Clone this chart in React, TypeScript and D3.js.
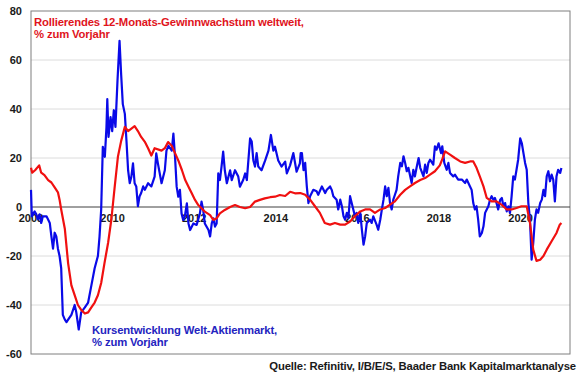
import React from "react";
import * as d3 from "d3";

const redYears = [2008.0,2008.03,2008.1,2008.2,2008.25,2008.33,2008.42,2008.5,2008.58,2008.66,2008.7,2008.74,2008.83,2008.91,2008.99,2009.07,2009.15,2009.23,2009.32,2009.4,2009.48,2009.56,2009.64,2009.72,2009.8,2009.89,2009.97,2010.05,2010.13,2010.21,2010.3,2010.38,2010.46,2010.54,2010.62,2010.7,2010.79,2010.87,2010.95,2011.03,2011.2,2011.28,2011.36,2011.45,2011.53,2011.61,2011.7,2011.78,2011.86,2011.94,2012.02,2012.1,2012.18,2012.26,2012.39,2012.47,2012.55,2012.63,2012.75,2012.88,2013.0,2013.12,2013.25,2013.37,2013.49,2013.61,2013.73,2013.86,2013.98,2014.1,2014.23,2014.35,2014.47,2014.6,2014.72,2014.84,2014.96,2015.08,2015.2,2015.33,2015.45,2015.58,2015.7,2015.82,2015.94,2016.07,2016.19,2016.31,2016.43,2016.56,2016.68,2016.8,2016.92,2017.05,2017.17,2017.29,2017.41,2017.54,2017.66,2017.78,2017.9,2018.02,2018.08,2018.15,2018.27,2018.39,2018.52,2018.64,2018.76,2018.84,2018.92,2019.0,2019.09,2019.17,2019.29,2019.41,2019.53,2019.66,2019.78,2019.9,2020.02,2020.15,2020.23,2020.31,2020.39,2020.48,2020.56,2020.64,2020.76,2020.88,2020.96,2021.0];
const redValues = [16,14,15,17,14,13,11,10,8,6,3,-1,-9,-23,-32,-36,-40,-42,-43.5,-43,-41,-39,-36,-31,-23,-14.6,-5,8,20.5,27,32.7,31,32,33,31,28.6,26.6,24,21,24,23,24,26.5,25,22,19,15,11,8.3,5.6,2.9,0.8,-0.5,-1.9,-3.3,-5.3,-4.6,-2.6,-1.2,0,0.8,0,-0.5,0,2.2,2.9,3.5,4,4.2,4.9,4.5,6.2,5.6,5.7,5,3,0.3,-2.4,-6.5,-7.2,-6.5,-7.2,-7.2,-5.9,-3.8,-1.8,-1,-1,-2.4,-1,-0.4,1,2.3,5,7,8.4,9.8,11,11.8,13.2,14.6,17,19.5,22.7,21.4,20,18.6,18,18.6,18.6,16,12.5,8.4,3.7,2.3,2.3,1,-1,-1,-0.4,0.3,0.3,-6.5,-17.4,-22,-21.5,-20,-17.4,-14,-10.6,-7.2,-6.5];

const blueYears = [2008.0,2008.02,2008.09,2008.13,2008.17,2008.21,2008.25,2008.29,2008.38,2008.46,2008.5,2008.54,2008.58,2008.62,2008.66,2008.7,2008.74,2008.78,2008.83,2008.87,2008.91,2008.99,2009.07,2009.11,2009.17,2009.23,2009.32,2009.4,2009.48,2009.56,2009.64,2009.68,2009.72,2009.76,2009.81,2009.85,2009.87,2009.9,2009.95,2009.99,2010.03,2010.07,2010.12,2010.17,2010.21,2010.25,2010.3,2010.34,2010.38,2010.42,2010.46,2010.5,2010.54,2010.58,2010.62,2010.66,2010.7,2010.75,2010.79,2010.87,2010.95,2011.03,2011.07,2011.11,2011.2,2011.28,2011.32,2011.37,2011.45,2011.49,2011.53,2011.57,2011.61,2011.65,2011.69,2011.73,2011.77,2011.82,2011.86,2011.9,2011.98,2012.06,2012.14,2012.18,2012.22,2012.26,2012.35,2012.39,2012.43,2012.47,2012.51,2012.55,2012.59,2012.63,2012.67,2012.71,2012.75,2012.8,2012.84,2012.88,2012.92,2013.0,2013.08,2013.12,2013.2,2013.25,2013.29,2013.37,2013.41,2013.45,2013.49,2013.53,2013.57,2013.65,2013.74,2013.82,2013.88,2013.94,2013.98,2014.06,2014.14,2014.23,2014.27,2014.35,2014.43,2014.51,2014.59,2014.61,2014.64,2014.68,2014.72,2014.76,2014.8,2014.84,2014.92,2015.0,2015.04,2015.13,2015.21,2015.25,2015.33,2015.37,2015.41,2015.49,2015.53,2015.58,2015.62,2015.66,2015.7,2015.74,2015.78,2015.82,2015.86,2015.94,2015.98,2016.02,2016.07,2016.11,2016.15,2016.19,2016.23,2016.31,2016.35,2016.39,2016.47,2016.51,2016.56,2016.6,2016.64,2016.68,2016.72,2016.76,2016.8,2016.84,2016.88,2016.92,2016.96,2017.0,2017.05,2017.09,2017.13,2017.17,2017.21,2017.25,2017.33,2017.37,2017.41,2017.45,2017.5,2017.54,2017.62,2017.66,2017.7,2017.74,2017.78,2017.86,2017.9,2017.94,2017.99,2018.05,2018.08,2018.13,2018.19,2018.23,2018.27,2018.35,2018.39,2018.47,2018.56,2018.64,2018.68,2018.72,2018.76,2018.8,2018.84,2018.88,2018.92,2018.96,2019.0,2019.05,2019.09,2019.13,2019.17,2019.21,2019.25,2019.29,2019.33,2019.37,2019.41,2019.45,2019.5,2019.54,2019.58,2019.62,2019.66,2019.7,2019.74,2019.78,2019.82,2019.86,2019.9,2019.94,2019.99,2020.03,2020.07,2020.11,2020.15,2020.19,2020.23,2020.27,2020.31,2020.35,2020.39,2020.43,2020.48,2020.52,2020.56,2020.6,2020.64,2020.68,2020.72,2020.76,2020.8,2020.84,2020.88,2020.92,2020.97,2021.0];
const blueValues = [7,-3.8,-1.8,-3,-5,-3,-6.5,-3.8,-3.8,-6.5,-12,-17,-10.5,-12,-17,-20,-25,-44,-46,-47,-46,-44,-40,-43,-50,-43,-41,-39,-32,-25,-20,-12,-1,24.6,20.5,32.7,44,28.6,36.7,31,39.5,32.7,51.6,67.8,54,42,38,27,15,9.7,12.4,17.8,9.7,8.4,0.3,4.3,5.7,8.4,7,9.7,8.4,12.4,21.9,17.8,9.7,15,23,25,23,30,20.5,8.3,4.2,7,-2.6,-5.3,-3.9,1.5,-6.7,-9.4,-6.7,-7.3,-2.6,2.2,-1.2,-6.7,-9.4,-12,-6.7,-4.6,-8,-6.7,13.7,11,16.5,22.6,15,9.7,12.4,15,11,15,12.4,8.3,11,13.7,11,28,26.7,19,16.5,22,16.5,15,19,23,29.4,23,24.6,19,16.5,18.5,13.7,17,22,14.4,17.8,22,22,15,18,8.4,1.6,4.4,7,6.4,5,8.4,5.7,7,8.4,7,4.4,3,-1,3,0.3,-3.8,-5.2,-2.4,-4.5,4.4,1.6,-3.8,-2.4,-6.5,-2.4,-9.3,-15.4,-12,-6.5,-5.2,-6.5,-3.8,-7.2,-9.3,-5.2,-1,3,8.4,4.4,7.8,1.6,-1,3,5,7,12.5,18,16.6,20.7,18,14.6,16,9.8,15.2,12.5,16,20,16,12.5,17.3,13.9,18,19.3,17.3,24.8,23.4,26,22,24.8,18,15.2,18,13.9,12.5,13.2,11.2,11.2,9.8,11.2,9.8,8.4,7,1.6,-1,0.3,-5.2,-12,-10.6,-7.9,-2.4,-1,0.3,3,4.4,3,3.7,1.6,-1,3,3.7,0.3,1.6,-1.8,0.3,-2.4,4.4,12.5,11.2,15.2,19.3,28,26,22,18,15.2,1.6,-5.2,-21.5,-14.7,-5.2,-1,-2.4,1.6,3,7,4.4,12.5,14.6,10.5,13.2,11.2,2.3,12.5,15.2,13.9,15.9,15.2];

const yTicks = [80, 60, 40, 20, 0, -20, -40, -60];
const xTicks = [2008, 2010, 2012, 2014, 2016, 2018, 2020];
const redTitle = ["Rollierendes 12-Monats-Gewinnwachstum weltweit,", "% zum Vorjahr"];
const blueTitle = ["Kursentwicklung Welt-Aktienmarkt,", "% zum Vorjahr"];
const sourceText = "Quelle: Refinitiv, I/B/E/S, Baader Bank Kapitalmarktanalyse";

const W = 580, H = 375;
const L = 31, R = 570, T = 11, B = 354;
const FONT = "'Liberation Sans', Arial, sans-serif";

export default function App() {
  const x = d3.scaleLinear().domain([2008, 2008 + (R - L) / 40.8]).range([L, R]);
  const y = d3.scaleLinear().domain([-60, 80]).range([B, T]);
  const line = d3.line<[number, number]>().x(d => x(d[0])).y(d => y(d[1]));
  const red = redYears.map((t, i) => [t, redValues[i]] as [number, number]);
  const blue = blueYears.map((t, i) => [t, blueValues[i]] as [number, number]);

  return (
    <svg width={W} height={H} style={{ position: "absolute", left: 0, top: 0, background: "#fff" }} fontFamily={FONT}>
      <rect x={0} y={0} width={W} height={H} fill="#fff" />
      {yTicks.filter(v => v !== 0 && v !== 80 && v !== -60).map(v => (
        <line key={v} x1={L} x2={R} y1={y(v)} y2={y(v)} stroke="#dcdcdc" strokeWidth={1} />
      ))}
      <rect x={L} y={T} width={R - L} height={B - T} fill="none" stroke="#7f7f7f" strokeWidth={1} />
      <line x1={L} x2={R} y1={y(0)} y2={y(0)} stroke="#404040" strokeWidth={1} />
      {yTicks.map(v => (
        <text key={v} x={22} y={y(v) + 4} textAnchor="end" fontSize={11} fontWeight="bold" fill="#1a1a1a">{v}</text>
      ))}
      {xTicks.map(t => (
        <text key={t} x={x(t)} y={y(0) + 15} textAnchor="middle" fontSize={11} fontWeight="bold" fill="#1a1a1a">{t}</text>
      ))}
      <path d={line(blue) || ""} fill="none" stroke="#0a0ae8" strokeWidth={2.2} strokeLinejoin="round" />
      <path d={line(red) || ""} fill="none" stroke="#f01010" strokeWidth={2.2} strokeLinejoin="round" />
      {redTitle.map((s, i) => (
        <text key={s} x={34} y={25.7 + i * 12.3} fontSize={11.3} letterSpacing={-0.15} fontWeight="bold" fill="#e0141c">{s}</text>
      ))}
      {blueTitle.map((s, i) => (
        <text key={s} x={92} y={333.5 + i * 12.3} fontSize={11.3} letterSpacing={-0.15} fontWeight="bold" fill="#2424c0">{s}</text>
      ))}
      <text x={576} y={370} textAnchor="end" fontSize={11.3} letterSpacing={-0.15} fontWeight="bold" fill="#1a1a1a">{sourceText}</text>
    </svg>
  );
}
